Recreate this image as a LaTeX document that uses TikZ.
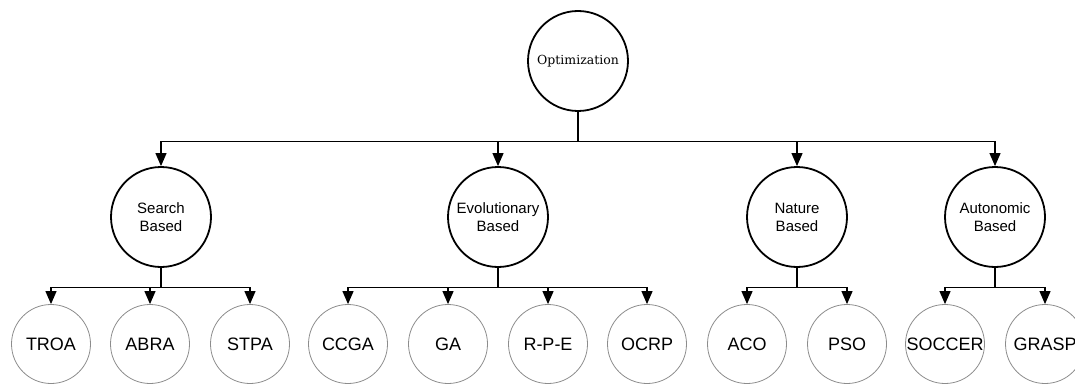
\documentclass[tikz,border=0pt]{standalone}
\usepackage{fontspec}
\setmainfont{Liberation Sans}
\newfontfamily\optfont{DejaVu Serif}
\usetikzlibrary{arrows.meta}

\tikzset{
  topnode/.style={circle,draw,line width=1.8pt,minimum size=100pt,inner sep=0pt,
    font=\optfont\fontsize{12.5}{14}\selectfont},
  midnode/.style={circle,draw,line width=1.8pt,minimum size=100pt,inner sep=0pt,
    align=center,font=\fontsize{15}{18}\selectfont},
  leafnode/.style={circle,draw=black!45,line width=0.8pt,minimum size=79pt,inner sep=0pt,
    font=\fontsize{18}{20}\selectfont},
  conn/.style={line width=1.1pt,-{Triangle[length=13pt,width=11pt]}}
}

\begin{document}
\begin{tikzpicture}[x=1pt,y=-1pt]
    \useasboundingbox (0,0) rectangle (1075,385);
    % Root
    \node[topnode] (opt) at (578,61) {Optimization};
    % Categories
    \node[midnode] (sb) at (161,217) {Search\\Based};
    \node[midnode] (eb) at (498,217) {Evolutionary\\Based};
    \node[midnode] (nb) at (797,217) {Nature\\Based};
    \node[midnode] (ab) at (995,217) {Autonomic\\Based};
    % Algorithms
    \node[leafnode] (troa) at (51,344) {TROA};
    \node[leafnode] (abra) at (150,344) {ABRA};
    \node[leafnode] (stpa) at (250,344) {STPA};
    \node[leafnode] (ccga) at (348,344) {CCGA};
    \node[leafnode] (ga) at (448,344) {GA};
    \node[leafnode] (rpe) at (548,344) {R-P-E};
    \node[leafnode] (ocrp) at (647,344) {OCRP};
    \node[leafnode] (aco) at (747,344) {ACO};
    \node[leafnode] (pso) at (847,344) {PSO};
    \node[leafnode] (soccer) at (945,344) {SOCCER};
    \node[leafnode] (grasp) at (1045,344) {GRASP};
    % Root to categories
    \foreach \c in {sb,eb,nb,ab}
        \draw[conn] (opt.south) -- ++(0,30) -| (\c.north);
    % Categories to algorithms
    \foreach \c in {troa,abra,stpa}
        \draw[conn] (sb.south) -- ++(0,20) -| (\c.north);
    \foreach \c in {ccga,ga,rpe,ocrp}
        \draw[conn] (eb.south) -- ++(0,20) -| (\c.north);
    \foreach \c in {aco,pso}
        \draw[conn] (nb.south) -- ++(0,20) -| (\c.north);
    \foreach \c in {soccer,grasp}
        \draw[conn] (ab.south) -- ++(0,20) -| (\c.north);
\end{tikzpicture}
\end{document}
